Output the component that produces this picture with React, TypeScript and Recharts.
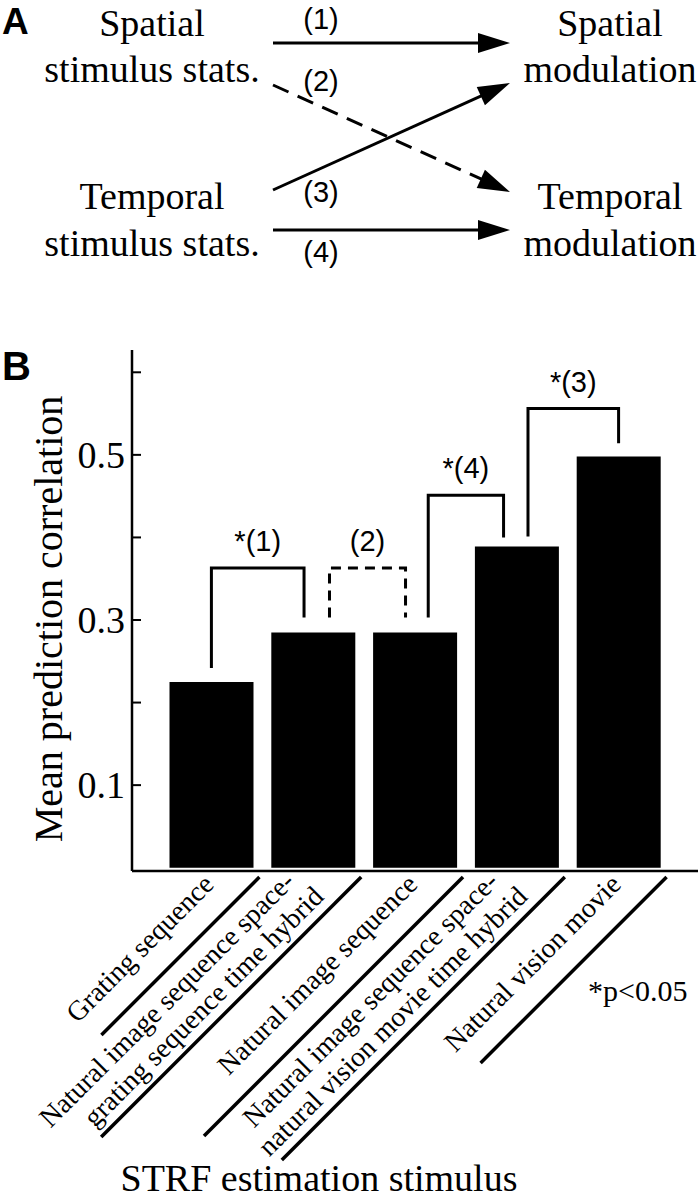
import React from 'react';
import { ComposedChart, Bar, Line, XAxis, YAxis, ReferenceLine } from 'recharts';

// STRF estimation stimuli (bar order left to right)
const CATEGORIES = [
  'Grating sequence',
  'Natural image sequence space-time hybrid (grating)',
  'Natural image sequence',
  'Natural image sequence space-time hybrid (movie)',
  'Natural vision movie',
];
const TICK_LABELS: string[][] = [
  ['Grating sequence'],
  ['Natural image sequence space-', 'grating sequence time hybrid'],
  ['Natural image sequence'],
  ['Natural image sequence space-', 'natural vision movie time hybrid'],
  ['Natural vision movie'],
];
const MEAN_CORR = [0.225, 0.285, 0.285, 0.389, 0.498];
const X_TICKS = [1, 2, 3, 4, 5];
const Y_TICKS = [0.1, 0.2, 0.3, 0.4, 0.5, 0.6];
const Y_LABELED = [0.1, 0.3, 0.5];

// significance brackets, in data units (x = category position, y = correlation)
const BRACKET_1 = [
  { x: 1, y: 0.242 },
  { x: 1, y: 0.363 },
  { x: 1.91, y: 0.363 },
  { x: 1.91, y: 0.303 },
];
const BRACKET_2 = [
  { x: 2.16, y: 0.303 },
  { x: 2.16, y: 0.363 },
  { x: 2.907, y: 0.363 },
  { x: 2.907, y: 0.303 },
];
const BRACKET_4 = [
  { x: 3.13, y: 0.303 },
  { x: 3.13, y: 0.451 },
  { x: 3.87, y: 0.451 },
  { x: 3.87, y: 0.4 },
];
const BRACKET_3 = [
  { x: 4.11, y: 0.401 },
  { x: 4.11, y: 0.556 },
  { x: 5.0, y: 0.556 },
  { x: 5.0, y: 0.514 },
];
const BRACKETS = [
  { label: '*(1)', dashed: false, points: BRACKET_1 },
  { label: '(2)', dashed: true, points: BRACKET_2 },
  { label: '*(4)', dashed: false, points: BRACKET_4 },
  { label: '*(3)', dashed: false, points: BRACKET_3 },
];

const barData = CATEGORIES.map((name, i) => ({ name, x: X_TICKS[i], value: MEAN_CORR[i] }));

const SERIF = '"Liberation Serif", "Times New Roman", Times, serif';
const SANS = '"Liberation Sans", Arial, Helvetica, sans-serif';

const PLOT_LEFT = 132;
const PLOT_RIGHT = 698;
const PLOT_TOP = 350;
const PLOT_BOTTOM = 871;
const SEP_LEN = [158, 260, 259, 283, 186];

function LeftTick({ y, payload }: any) {
  const v = payload.value;
  return (
    <g>
      <line x1={PLOT_LEFT} x2={PLOT_LEFT + 9} y1={y} y2={y} stroke="#000" strokeWidth={2} />
      {Y_LABELED.includes(v) && (
        <text x={PLOT_LEFT - 7} y={y + 13} textAnchor="end" fontFamily={SERIF} fontSize={38} fill="#000">
          {v.toFixed(1)}
        </text>
      )}
    </g>
  );
}

function RightTick({ y }: any) {
  return <line x1={PLOT_RIGHT - 9} x2={PLOT_RIGHT} y1={y} y2={y} stroke="#000" strokeWidth={2} />;
}

function TopTick({ x }: any) {
  return <line x1={x} x2={x} y1={PLOT_TOP} y2={PLOT_TOP + 7} stroke="#000" strokeWidth={2} />;
}

function StimulusTick({ x, payload }: any) {
  const i = X_TICKS.indexOf(payload.value);
  if (i < 0) return null;
  const lines = TICK_LABELS[i];
  const len = SEP_LEN[i];
  const sx = x + 48;
  const sy = PLOT_BOTTOM + 6;
  const two = lines.length > 1;
  const ax = two ? x + 12 : x + 4;
  const ay = two ? PLOT_BOTTOM + 27 : PLOT_BOTTOM + 15;
  return (
    <g>
      <line x1={sx} y1={sy} x2={sx - len} y2={sy + len} stroke="#000" strokeWidth={3.5} />
      <text
        transform={`rotate(-45, ${ax}, ${ay})`}
        textAnchor="end"
        fontFamily={SERIF}
        fontSize={28}
        fill="#000"
      >
        {two ? (
          <>
            <tspan x={ax - 10} y={ay - 31}>{lines[0]}</tspan>
            <tspan x={ax} y={ay}>{lines[1]}</tspan>
          </>
        ) : (
          <tspan x={ax} y={ay}>{lines[0]}</tspan>
        )}
      </text>
    </g>
  );
}

function Arrow({ x1, y1, x2, y2, dashed }: { x1: number; y1: number; x2: number; y2: number; dashed?: boolean }) {
  const dx = x2 - x1;
  const dy = y2 - y1;
  const len = Math.sqrt(dx * dx + dy * dy);
  const ux = dx / len;
  const uy = dy / len;
  const hl = 32;
  const hw = 10;
  const bx = x2 - ux * hl;
  const by = y2 - uy * hl;
  return (
    <g>
      <line
        x1={x1}
        y1={y1}
        x2={x2 - ux * hl * 0.7}
        y2={y2 - uy * hl * 0.7}
        stroke="#000"
        strokeWidth={3}
        strokeDasharray={dashed ? '17 10' : undefined}
      />
      <polygon
        points={`${x2},${y2} ${bx - uy * hw},${by + ux * hw} ${bx + uy * hw},${by - ux * hw}`}
        fill="#000"
      />
    </g>
  );
}

function PanelA() {
  const t = { fontFamily: SERIF, fontSize: 38, fill: '#000', textAnchor: 'middle' as const };
  const s = { fontFamily: SANS, fontSize: 29, fill: '#000', textAnchor: 'middle' as const };
  return (
    <g>
      <text x={2} y={34} fontFamily={SANS} fontWeight="bold" fontSize={37} fill="#000">A</text>
      <text x={152} y={36} {...t}>Spatial</text>
      <text x={152} y={82} {...t}>stimulus stats.</text>
      <text x={152} y={209} {...t}>Temporal</text>
      <text x={152} y={256} {...t}>stimulus stats.</text>
      <text x={610} y={36} {...t}>Spatial</text>
      <text x={610} y={82} {...t}>modulation</text>
      <text x={610} y={209} {...t}>Temporal</text>
      <text x={610} y={256} {...t}>modulation</text>
      <Arrow x1={273} y1={43} x2={510} y2={43} />
      <Arrow x1={273} y1={85} x2={510} y2={192} dashed />
      <Arrow x1={273} y1={190} x2={510} y2={83} />
      <Arrow x1={273} y1={230} x2={510} y2={230} />
      <text x={321} y={29} {...s}>(1)</text>
      <text x={321} y={91} {...s}>(2)</text>
      <text x={321} y={202} {...s}>(3)</text>
      <text x={321} y={262} {...s}>(4)</text>
    </g>
  );
}

export default function App() {
  const axisLine = { stroke: '#000', strokeWidth: 2.5 };
  const xDomain: [number, number] = [0.22, 5.78];
  const yDomain: [number, number] = [-0.004, 0.627];
  return (
    <div style={{ position: 'absolute', left: 0, top: 0, width: 700, height: 1199, background: '#fff' }}>
      <ComposedChart
        width={700}
        height={1199}
        data={barData}
        margin={{ top: PLOT_TOP, right: 700 - PLOT_RIGHT, bottom: 0, left: 0 }}
      >
        <XAxis
          xAxisId="b"
          type="number"
          dataKey="x"
          domain={xDomain}
          ticks={X_TICKS}
          interval={0}
          allowDataOverflow
          height={1199 - PLOT_BOTTOM}
          axisLine={axisLine}
          tickLine={false}
          tick={<StimulusTick />}
        />
        <XAxis
          xAxisId="t"
          orientation="top"
          type="number"
          dataKey="x"
          domain={xDomain}
          ticks={X_TICKS}
          interval={0}
          allowDataOverflow
          height={0}
          axisLine={axisLine}
          tickLine={false}
          tick={<TopTick />}
        />
        <YAxis
          yAxisId="l"
          type="number"
          domain={yDomain}
          ticks={Y_TICKS}
          interval={0}
          allowDataOverflow
          width={PLOT_LEFT}
          axisLine={axisLine}
          tickLine={false}
          tick={<LeftTick />}
        />
        <YAxis
          yAxisId="r"
          orientation="right"
          type="number"
          domain={yDomain}
          ticks={Y_TICKS}
          interval={0}
          allowDataOverflow
          width={0}
          axisLine={axisLine}
          tickLine={false}
          tick={<RightTick />}
        />
        <Bar xAxisId="b" yAxisId="l" dataKey="value" barSize={84} fill="#000" isAnimationActive={false} />
        {BRACKETS.map((b) => (
          <Line
            key={b.label}
            xAxisId="t"
            yAxisId="l"
            data={b.points}
            dataKey="y"
            type="linear"
            stroke="#000"
            strokeWidth={3}
            strokeDasharray={b.dashed ? '10 7' : undefined}
            strokeLinejoin="miter"
            dot={false}
            activeDot={false}
            isAnimationActive={false}
          />
        ))}
        {BRACKETS.map((b) => (
          <ReferenceLine
            key={'lab' + b.label}
            xAxisId="t"
            yAxisId="l"
            segment={[b.points[1], b.points[2]]}
            stroke="none"
            ifOverflow="visible"
            label={{ value: b.label, position: 'top', offset: 17, fill: '#000', fontSize: 29, fontFamily: SANS }}
          />
        ))}
      </ComposedChart>
      <svg
        width={700}
        height={1199}
        style={{ position: 'absolute', left: 0, top: 0, pointerEvents: 'none' }}
      >
        <PanelA />
        <text x={2} y={380} fontFamily={SANS} fontWeight="bold" fontSize={40} fill="#000">B</text>
        <text
          transform="rotate(-90, 62, 619)"
          x={62}
          y={619}
          textAnchor="middle"
          fontFamily={SERIF}
          fontSize={40}
          fill="#000"
        >
          Mean prediction correlation
        </text>
        <text x={319} y={1191} textAnchor="middle" fontFamily={SERIF} fontSize={38} fill="#000">
          STRF estimation stimulus
        </text>
        <text x={588} y={1001} fontFamily={SERIF} fontSize={30} fill="#000">*p&lt;0.05</text>
      </svg>
    </div>
  );
}
